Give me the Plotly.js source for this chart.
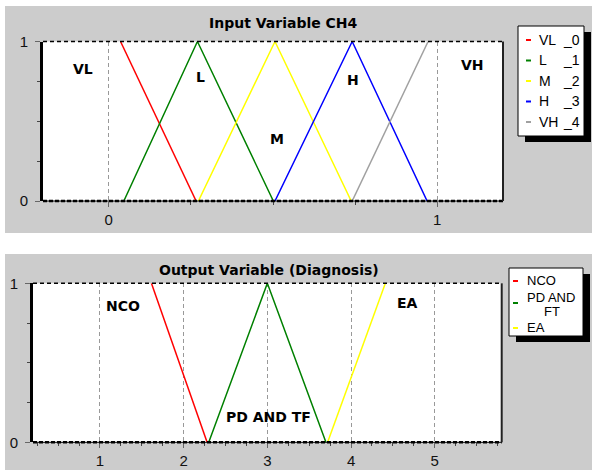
<!DOCTYPE html>
<html><head><meta charset="utf-8">
<script src="https://cdn.plot.ly/plotly-3.0.1.min.js"></script>
<style>body{margin:0;padding:0;background:#fff}#chart{width:592px;height:470px}</style>
</head><body><div id="chart"></div>
<script>
// ---- Input variable CH4 membership functions (vertex x values / memberships)
const inNames = ['VL', 'L', 'M', 'H', 'VH'];
const inSuffix = ['_0', '_1', '_2', '_3', '_4'];
const vlX = [0.036, 0.266], vlY = [1, 0];
const lX  = [0.046, 0.270, 0.501], lY = [0, 1, 0];
const mX  = [0.273, 0.506, 0.738], mY = [0, 1, 0];
const hX  = [0.506, 0.741, 0.969], hY = [0, 1, 0];
const vhX = [0.741, 0.972], vhY = [0, 1];
const inTickVals = [0, 1];

// ---- Output variable (Diagnosis) membership functions
const outNames = ['NCO', 'PD AND TF', 'EA'];
const ncoX = [1.615, 2.28], ncoY = [1, 0];
const pdX  = [2.30, 3.0, 3.70], pdY = [0, 1, 0];
const eaX  = [3.72, 4.41], eaY = [0, 1];
const outTickVals = [1, 2, 3, 4, 5];

// ---- styles
const inColors = ['#ff0000', '#008000', '#ffff00', '#0000ff', '#a0a0a0'];
const outColors = ['#ff0000', '#008000', '#ffff00'];
const W = 592, H = 470;
const px = v => v / W, py = v => 1 - v / H;

const inSeries = [[vlX, vlY], [lX, lY], [mX, mY], [hX, hY], [vhX, vhY]];
const outSeries = [[ncoX, ncoY], [pdX, pdY], [eaX, eaY]];

const traces = [];
inSeries.forEach((s, i) => traces.push({x: s[0], y: s[1], xaxis: 'x', yaxis: 'y', mode: 'lines',
  line: {color: inColors[i], width: 1.5}, name: inNames[i], showlegend: false, hoverinfo: 'skip'}));
outSeries.forEach((s, i) => traces.push({x: s[0], y: s[1], xaxis: 'x2', yaxis: 'y2', mode: 'lines',
  line: {color: outColors[i], width: 1.5}, name: outNames[i], showlegend: false, hoverinfo: 'skip'}));

const tickFont = {family: 'Liberation Sans, Arial, sans-serif', size: 15, color: '#111'};
function xax(domain, range, tickvals) {
  return {domain, range, tickvals, ticktext: tickvals.map(String), showline: false, zeroline: false,
    ticks: 'outside', ticklen: 5, tickcolor: '#666', tickwidth: 1,
    showgrid: true, gridcolor: '#999', griddash: '4px,3px', gridwidth: 1,
    minor: {dtick: 0.25, tick0: 0, ticks: 'outside', ticklen: 3, tickcolor: '#444', showgrid: false},
    tickfont: tickFont, fixedrange: true};
}
function yax(domain) {
  return {domain, range: [0, 1], tickvals: [0, 1], ticktext: ['0', '1'], showline: true, linewidth: 3, linecolor: '#000',
    zeroline: false, showgrid: false, ticks: 'outside', ticklen: 5, tickcolor: '#666',
    minor: {dtick: 0.25, tick0: 0, ticks: 'outside', ticklen: 3, tickcolor: '#444', showgrid: false},
    tickfont: tickFont, ticklabelstandoff: 4, fixedrange: true};
}

const shapes = [
  // white strips around/between gray panels
  {type: 'rect', xref: 'paper', yref: 'paper', x0: 0, x1: 1, y0: py(6), y1: 1, fillcolor: '#fff', line: {width: 0}, layer: 'below'},
  {type: 'rect', xref: 'paper', yref: 'paper', x0: 0, x1: px(5), y0: 0, y1: 1, fillcolor: '#fff', line: {width: 0}, layer: 'below'},
  {type: 'rect', xref: 'paper', yref: 'paper', x0: 0, x1: 1, y0: py(254), y1: py(233), fillcolor: '#fff', line: {width: 0}, layer: 'below'},
];
[['x', 'y'], ['x2', 'y2']].forEach(([xa, ya]) => {
  const xr = xa + ' domain', yr = ya + ' domain';
  shapes.push({type: 'line', xref: xr, yref: yr, x0: 0, x1: 1, y0: 1, y1: 1, line: {color: '#000', width: 1.5, dash: '4px,3px'}});
  shapes.push({type: 'line', xref: xr, yref: yr, x0: 0, x1: 1, y0: 0, y1: 0, line: {color: '#000', width: 1}});
  shapes.push({type: 'line', xref: xr, yref: yr, x0: 0, x1: 1, y0: 0, y1: 0, line: {color: '#000', width: 2.5, dash: '4px,2px'}});
  shapes.push({type: 'line', xref: xr, yref: yr, x0: 1, x1: 1, y0: 0, y1: 1, line: {color: '#222', width: 2}});
});

const annotations = [];
const lblFont = {family: 'DejaVu Sans, sans-serif', size: 14, color: '#000', weight: 'bold'};
function ann(text, x, y, xref, yref, font, xanchor) {
  annotations.push({text, x, y, xref, yref, showarrow: false, font, xanchor: xanchor || 'center', yanchor: 'middle'});
}
// titles
ann('<b>Input Variable CH4</b>', px(283), py(23), 'paper', 'paper', lblFont);
ann('<b>Output Variable (Diagnosis)</b>', px(269), py(270), 'paper', 'paper', lblFont);
// MF labels (data coords)
const inLblX = [-0.079, 0.280, 0.511, 0.744, 1.108], inLblY = [0.828, 0.777, 0.389, 0.759, 0.853];
inNames.forEach((n, i) => ann('<b>' + n + '</b>', inLblX[i], inLblY[i], 'x', 'y', lblFont));
const outLblX = [1.274, 3.008, 4.671], outLblY = [0.857, 0.161, 0.878];
outNames.forEach((n, i) => ann('<b>' + n + '</b>', outLblX[i], outLblY[i], 'x2', 'y2', lblFont));

// legends
const legFont = {family: 'Liberation Sans, Arial, sans-serif', size: 14, color: '#000'};
const legFont2 = {family: 'Liberation Sans, Arial, sans-serif', size: 13, color: '#000'};
function legendBox(l, t, r, b) {
  shapes.push({type: 'rect', xref: 'paper', yref: 'paper', x0: px(l + 7), x1: px(r + 7), y0: py(b + 6), y1: py(t + 6), fillcolor: '#000', line: {width: 0}});
  shapes.push({type: 'rect', xref: 'paper', yref: 'paper', x0: px(l), x1: px(r), y0: py(b), y1: py(t), fillcolor: '#fff', line: {color: '#000', width: 1}});
}
legendBox(518, 26, 584, 136);
inNames.forEach((n, i) => {
  const yy = 40 + i * 20.5;
  shapes.push({type: 'line', xref: 'paper', yref: 'paper', x0: px(526), x1: px(531), y0: py(yy), y1: py(yy), line: {color: inColors[i], width: 2}});
  ann(n, px(537), py(yy), 'paper', 'paper', legFont, 'left');
  ann(inSuffix[i], px(561), py(yy), 'paper', 'paper', legFont, 'left');
});
legendBox(509, 268, 583, 336);
const outMarkY = [281, 303, 328];
outNames.forEach((n, i) => {
  shapes.push({type: 'line', xref: 'paper', yref: 'paper', x0: px(513), x1: px(518), y0: py(outMarkY[i]), y1: py(outMarkY[i]), line: {color: outColors[i], width: 2}});
});
ann('NCO', px(525), py(280), 'paper', 'paper', legFont2, 'left');
ann('PD AND', px(525), py(297), 'paper', 'paper', legFont2, 'left');
ann('FT', px(552), py(311), 'paper', 'paper', legFont2, 'center');
ann('EA', px(525), py(327), 'paper', 'paper', legFont2, 'left');

const layout = {
  width: W, height: H, autosize: false, margin: {l: 0, r: 0, t: 0, b: 0, pad: 0},
  paper_bgcolor: '#cccccc', plot_bgcolor: '#ffffff', showlegend: false,
  xaxis: xax([px(43), px(503)], [-0.2, 1.2], inTickVals),
  yaxis: yax([py(201), py(41.5)]),
  xaxis2: Object.assign(xax([px(33), px(501.7)], [0.2, 5.8], outTickVals), {anchor: 'y2'}),
  yaxis2: Object.assign(yax([py(442.3), py(283.3)]), {anchor: 'x2'}),
  shapes, annotations
};
layout.xaxis.anchor = 'y';
layout.yaxis.anchor = 'x';
Plotly.newPlot('chart', traces, layout, {staticPlot: true, displayModeBar: false});
</script></body></html>
